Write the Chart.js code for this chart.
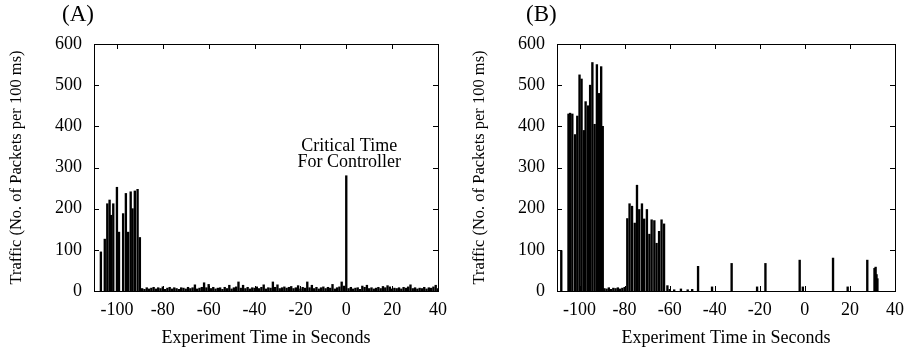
<!DOCTYPE html>
<html>
<head>
<meta charset="utf-8">
<script src="https://cdn.jsdelivr.net/npm/chart.js@4"></script>
<style>
  body { margin: 0; background: #fff; width: 912px; height: 350px; position: relative; overflow: hidden; font-family: "Liberation Serif", serif; }
  .box { position: absolute; top: 0; height: 350px; }
  .tag { position: absolute; top: 1px; font-size: 23px; color: #000; }
</style>
</head>
<body>
<div class="box" style="left:0;width:456px"><canvas id="chartA" width="456" height="350"></canvas></div>
<div class="box" style="left:463px;width:449px"><canvas id="chartB" width="449" height="350"></canvas></div>
<div class="tag" style="left:62px">(A)</div>
<div class="tag" style="left:526px">(B)</div>
<script>
// panel A: seconds relative to the critical time, packets per 100 ms
const timesA = [
  -107, -105.3, -104.2, -103.2, -102.6, -101.6, -100, -99.1, -97.3, -96.1, -95.1, -94, -93.2, -92.2, -91, -90,
  -89, -88, -87, -86, -85, -84, -83, -82, -81, -80, -79, -78, -77, -76, -75, -74, -73, -72, -71, -70,
  -69, -68, -67, -66, -65, -64, -63, -62, -61, -60, -59, -58, -57, -56, -55, -54, -53, -52, -51, -50,
  -49, -48, -47, -46, -45, -44, -43, -42, -41, -40, -39, -38, -37, -36, -35, -34, -33, -32, -31, -30,
  -29, -28, -27, -26, -25, -24, -23, -22, -21, -20, -19, -18, -17, -16, -15, -14, -13, -12, -11, -10,
  -9, -8, -7, -6, -5, -4, -3, -2, -1, 0, 1, 2, 3, 4, 5, 6, 7, 8, 9, 10,
  11, 12, 13, 14, 15, 16, 17, 18, 19, 20, 21, 22, 23, 24, 25, 26, 27, 28, 29, 30,
  31, 32, 33, 34, 35, 36, 37, 38, 39, 40
];
const trafficA = [
  95, 126, 212, 221, 184, 212, 252, 143, 188, 237, 143, 241, 200, 243, 247, 130,
  6, 4, 8, 5, 7, 9, 5, 8, 6, 10, 4, 7, 9, 5, 8, 6, 4, 8, 7, 5,
  9, 6, 8, 15, 5, 7, 9, 20, 8, 16, 6, 9, 5, 7, 8, 4, 9, 6, 14, 5,
  8, 10, 22, 7, 14, 6, 9, 5, 8, 7, 10, 6, 9, 15, 5, 8, 7, 22, 9, 15,
  6, 8, 10, 7, 9, 11, 6, 8, 13, 5, 9, 7, 22, 8, 14, 6, 9, 5, 8, 10,
  6, 9, 7, 16, 5, 8, 10, 22, 12, 280, 6, 9, 5, 7, 8, 4, 12, 9, 14, 6,
  8, 5, 7, 9, 6, 11, 8, 13, 10, 5, 7, 6, 8, 5, 9, 7, 10, 15, 6, 8,
  5, 7, 6, 9, 5, 8, 7, 10, 14, 6
];

// panel B
const timesB = [
  -108.1, -104.9, -104.2, -103.2, -102, -101, -100, -99.1, -98.1, -97.3, -96.2, -95.3, -94.3, -93.3, -92.3, -91.4, -90.4, -89.7,
  -89, -88, -87, -86, -85, -84, -83, -82, -81, -80,
  -78.8, -77.8, -76.7, -75.5, -74.5, -73.5, -72.3, -71.3, -70.1, -69, -68, -66.8, -65.8, -64.7, -63.6, -62.5, -61,
  -60, -58, -55, -52, -50,
  -47.4, -41.2, -32.5, -21.2, -17.5, -2.3, -0.9, 12.5, 19, 27.7, 30.9, 31.4, 31.8, 32.2
];
const trafficB = [
  98, 430, 432, 430, 380, 425, 525, 515, 390, 460, 450, 500, 555, 405, 550, 480, 545, 400,
  6, 5, 8, 4, 7, 6, 8, 5, 7, 9,
  176, 212, 206, 165, 257, 198, 212, 175, 198, 138, 173, 171, 116, 145, 173, 163, 13,
  4, 3, 5, 3, 4,
  60, 10, 67, 10, 67, 75, 10, 80, 10, 75, 55, 58, 40, 30
];

const xTicks = [-100, -80, -60, -40, -20, 0, 20, 40];
const yTicks = [0, 100, 200, 300, 400, 500, 600];
const noteLines = ['Critical Time', 'For Controller'];
const criticalTime = 0;
const criticalValue = 280;

const serif = '"Liberation Serif", "Times New Roman", serif';

// gnuplot style: closed frame, ticks pointing inward on all four sides
const frameTicks = {
  id: 'frameTicks',
  afterDatasetsDraw(chart) {
    const { ctx, chartArea: a, scales: { x, y } } = chart;
    ctx.save();
    ctx.strokeStyle = '#000';
    ctx.lineWidth = 1;
    ctx.beginPath();
    x.ticks.forEach(t => {
      const px = Math.round(x.getPixelForValue(t.value)) + 0.5;
      ctx.moveTo(px, a.bottom); ctx.lineTo(px, a.bottom - 5);
      ctx.moveTo(px, a.top); ctx.lineTo(px, a.top + 5);
    });
    y.ticks.forEach(t => {
      const py = Math.round(y.getPixelForValue(t.value)) + 0.5;
      ctx.moveTo(a.left, py); ctx.lineTo(a.left + 5, py);
      ctx.moveTo(a.right, py); ctx.lineTo(a.right - 5, py);
    });
    ctx.stroke();
    ctx.strokeRect(Math.round(a.left) + 0.5, Math.round(a.top) + 0.5, Math.round(a.right - a.left), Math.round(a.bottom - a.top));
    ctx.restore();
  }
};

const criticalNote = {
  id: 'criticalNote',
  afterDatasetsDraw(chart, args, opts) {
    if (!opts.show) return;
    const { ctx, scales: { x, y } } = chart;
    const px = x.getPixelForValue(criticalTime) + 3;
    const py = y.getPixelForValue(criticalValue);
    ctx.save();
    ctx.fillStyle = '#000';
    ctx.font = '18px ' + serif;
    ctx.textAlign = 'center';
    ctx.textBaseline = 'alphabetic';
    ctx.fillText(noteLines[0], px, py - 25);
    ctx.fillText(noteLines[1], px, py - 9);
    ctx.restore();
  }
};

function makeChart(id, times, traffic, padRight, showNote) {
  const ctx = document.getElementById(id).getContext('2d');
  return new Chart(ctx, {
    type: 'bar',
    data: {
      datasets: [{
        data: times.map((t, i) => ({ x: t, y: traffic[i] })),
        backgroundColor: '#000',
        barThickness: 1.7,
        borderWidth: 0
      }]
    },
    options: {
      responsive: false,
      animation: false,
      events: [],
      layout: { padding: { left: 0, right: padRight, top: 44, bottom: 0 } },
      plugins: {
        legend: { display: false },
        tooltip: { enabled: false },
        criticalNote: { show: showNote }
      },
      scales: {
        x: {
          type: 'linear',
          min: -110,
          max: 40,
          offset: false,
          afterBuildTicks: s => { s.ticks = xTicks.map(v => ({ value: v })); },
          afterFit: s => { s.height = 59; },
          grid: { display: false, drawTicks: false },
          border: { display: false },
          ticks: { color: '#000', padding: 8, maxRotation: 0, font: { family: serif, size: 18 } },
          title: {
            display: true,
            text: 'Experiment Time in Seconds',
            color: '#000',
            font: { family: serif, size: 18 },
            padding: { top: 0, bottom: 1 }
          }
        },
        y: {
          min: 0,
          max: 600,
          afterBuildTicks: s => { s.ticks = yTicks.map(v => ({ value: v })); },
          afterFit: s => { s.width = 94; },
          grid: { display: false, drawTicks: false },
          border: { display: false },
          ticks: { color: '#000', padding: 12, font: { family: serif, size: 18 } },
          title: {
            display: true,
            text: 'Traffic (No. of Packets per 100 ms)',
            color: '#000',
            font: { family: serif, size: 16.5 },
            padding: { top: 7, bottom: 0 }
          }
        }
      }
    },
    plugins: [frameTicks, criticalNote]
  });
}

makeChart('chartA', timesA, trafficA, 18, true);
makeChart('chartB', timesB, trafficB, 15, false);
</script>
</body>
</html>
